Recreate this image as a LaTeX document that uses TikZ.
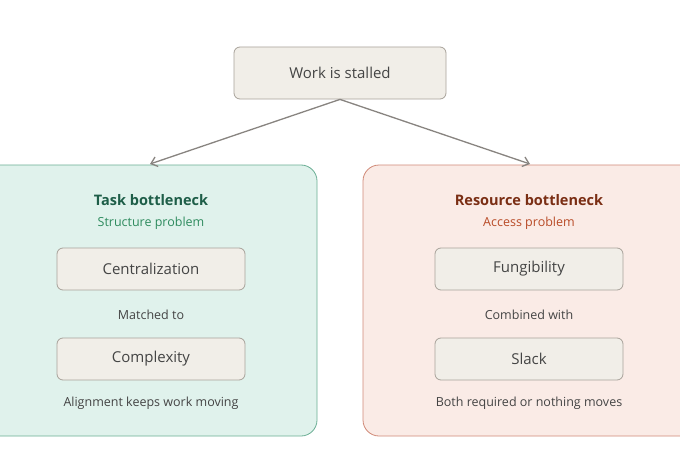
\documentclass[tikz,border=0pt]{standalone}
\usepackage{fontspec}
\setmainfont{Open Sans}
\usetikzlibrary{arrows.meta}
\definecolor{boxf}{HTML}{F1EEE8}\definecolor{boxd}{HTML}{A8A29A}
\definecolor{gf}{HTML}{E0F2EC}\definecolor{gd}{HTML}{6AAE94}
\definecolor{gt}{HTML}{1E5E48}\definecolor{gs}{HTML}{2E8B5E}
\definecolor{rf}{HTML}{FAEBE6}\definecolor{rd}{HTML}{D08A78}
\definecolor{rt}{HTML}{7A2E14}\definecolor{rs}{HTML}{B84A26}
\definecolor{txt}{HTML}{444444}\definecolor{arr}{HTML}{888480}
\begin{document}
\begin{tikzpicture}[x=1pt,y=-1pt,
  box/.style={draw=boxd,fill=boxf,rounded corners=6pt,line width=0.8pt,text=txt,font=\fontsize{15}{18}\selectfont},
  panel/.style={rounded corners=16pt,line width=0.8pt},
  lbl/.style={text=txt,font=\fontsize{12.5}{15}\selectfont},
  ttl/.style={font=\fontsize{14.5}{17}\selectfont\bfseries},
  sub/.style={font=\fontsize{12.5}{15}\selectfont},
  arrw/.style={draw=arr,line width=1.3pt,-{Straight Barb[length=6pt,width=10pt]}}]
\useasboundingbox (0,0) rectangle (680,460);
\fill[white] (0,0) rectangle (680,460);
\node[box,minimum width=212pt,minimum height=52pt] (top) at (340,73) {Work is stalled};
\draw[panel,draw=gd,fill=gf] (-20,165) rectangle (317,436);
\draw[panel,draw=rd,fill=rf] (363,165) rectangle (700,436);
\coordinate (lp) at (150,164);
\coordinate (rp) at (530,164);
\draw[arrw] (top.south) -- (lp);
\draw[arrw] (top.south) -- (rp);
\node[ttl,text=gt] (lt) at (151,200) {Task bottleneck};
\node[sub,text=gs] (ls) at (151,223) {Structure problem};
\node[box,minimum width=188pt,minimum height=42pt] (c1) at (151,269) {Centralization};
\node[lbl] (m1) at (151,315) {Matched to};
\node[box,minimum width=188pt,minimum height=42pt] (c2) at (151,359) {Complexity};
\node[lbl] (b1) at (151,403) {Alignment keeps work moving};
\node[ttl,text=rt] (rt) at (529,200) {Resource bottleneck};
\node[sub,text=rs] (rs) at (529,223) {Access problem};
\node[box,minimum width=188pt,minimum height=42pt] (f1) at (529,269) {Fungibility};
\node[lbl] (m2) at (529,315) {Combined with};
\node[box,minimum width=188pt,minimum height=42pt] (f2) at (529,359) {Slack};
\node[lbl] (b2) at (529,403) {Both required or nothing moves};
\end{tikzpicture}
\end{document}
